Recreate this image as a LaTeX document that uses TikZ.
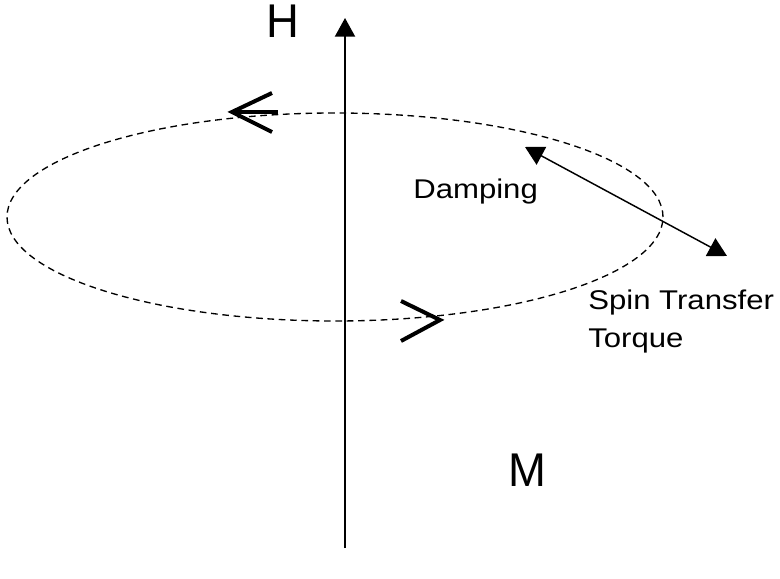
\documentclass[tikz,border=0pt]{standalone}
\usepackage{fontspec}
\setmainfont{Liberation Sans}
\usetikzlibrary{arrows.meta}

\begin{document}
\begin{tikzpicture}[x=0.75pt, y=0.75pt,
  axis/.style={line width=1.5pt, -{Triangle[length=14pt, width=15pt]}},
  orbit/.style={line width=1pt, dash pattern=on 5pt off 3.5pt},
  chevron/.style={line width=3pt},
  torque/.style={line width=1.1pt, {Triangle[length=14pt, width=15pt]}-{Triangle[length=14pt, width=15pt]}},
  lbl/.style={font=\fontsize{20.3}{24}\selectfont, inner sep=0pt, xscale=1.15, transform shape},
  big/.style={font=\fontsize{35.5}{40}\selectfont, inner sep=0pt, xscale=0.96, transform shape}]
  \useasboundingbox (0,0) rectangle (780,578);
  % field axis
  \coordinate (axisbot) at (345,30);
  \coordinate (axistop) at (345,560);
  \draw[axis] (axisbot) -- (axistop);
  % precession orbit
  \draw[orbit] (335,361) ellipse [x radius=328, y radius=104];
  \draw[chevron] (272,485) -- (232,466) -- (272,446);
  \draw[chevron] (232,466) -- (278,466);
  \draw[chevron] (401,277) -- (440,258) -- (401,237);
  % damping vs. spin transfer
  \coordinate (damptip) at (525,431);
  \coordinate (stttip) at (727,322);
  \draw[torque] (damptip) -- (stttip);
  % labels
  \node[big] (hlbl) at (283,557) {H};
  \node[big] (mlbl) at (527,108) {M};
  \node[lbl, anchor=base west] (damp) at (413,379) {Damping};
  \node[lbl, anchor=base west] (spin) at (588,268) {Spin Transfer};
  \node[lbl, anchor=base west] (torq) at (588,230) {Torque};
\end{tikzpicture}
\end{document}
